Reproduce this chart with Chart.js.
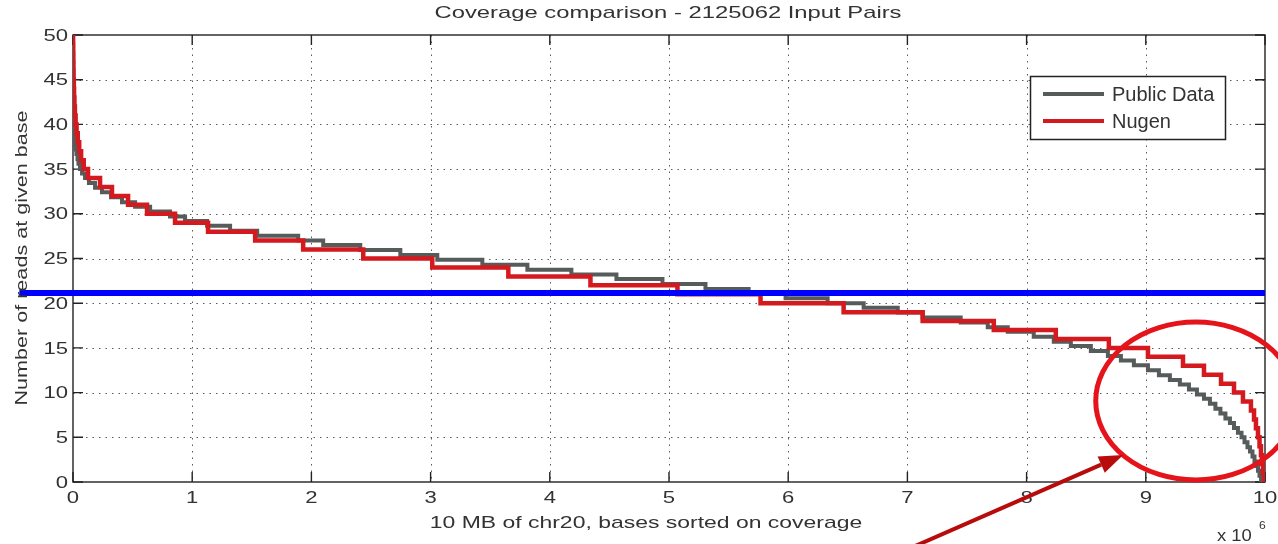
<!DOCTYPE html>
<html>
<head>
<meta charset="utf-8">
<script src="https://cdn.jsdelivr.net/npm/chart.js@4.4.1/dist/chart.umd.min.js"></script>
<style>
  html, body { margin: 0; padding: 0; background: #fff; }
  canvas { display: block; }
</style>
</head>
<body>
<canvas id="c" width="1278" height="544"></canvas>
<script>
// ---- Data (x in units of 10^6 bases; y = number of reads) ----
const chartTitle = 'Coverage comparison - 2125062 Input Pairs';
const xAxisTitle = '10 MB of chr20, bases sorted on coverage';
const yAxisTitle = 'Number of reads at given base';
const seriesNames = ['Public Data', 'Nugen'];
const xTicks = [0, 1, 2, 3, 4, 5, 6, 7, 8, 9, 10];
const yTicks = [0, 5, 10, 15, 20, 25, 30, 35, 40, 45, 50];
const thresholdY = 21.15;
const thresholdX = [-0.45, 10];

// Nugen: start position of each coverage level and the level
const nugenX = [0, 0.001, 0.002, 0.003, 0.004, 0.005, 0.007, 0.009, 0.012, 0.016,
  0.022, 0.030, 0.040, 0.052, 0.068, 0.090, 0.126, 0.227, 0.327, 0.462,
  0.621, 0.856, 1.133, 1.528, 1.931, 2.435, 3.014, 3.652, 4.341, 5.071,
  5.768, 6.465, 7.128, 7.725, 8.245, 8.690, 9.018, 9.312, 9.488, 9.631,
  9.740, 9.815, 9.882, 9.908, 9.924, 9.941, 9.954, 9.966, 9.975, 9.983, 9.992];
const nugenY = [50, 49, 48, 47, 46, 45, 44, 43, 42, 41,
  40, 39, 38, 37, 36, 35, 34, 33, 32, 31,
  30, 29, 28, 27, 26, 25, 24, 23, 22, 21,
  20, 19, 18, 17, 16, 15, 14, 13, 12, 11,
  10, 9, 8, 7, 6, 5, 4, 3, 2, 1, 0];

// Public Data: start position of each level and the level
const publicX = [0, 0.011, 0.014, 0.018, 0.024, 0.029, 0.038, 0.046, 0.059, 0.076,
  0.101, 0.134, 0.185, 0.243, 0.319, 0.411, 0.521, 0.647, 0.814, 0.940,
  1.125, 1.318, 1.545, 1.889, 2.099, 2.410, 2.746, 3.056, 3.434, 3.812,
  4.181, 4.559, 4.945, 5.306, 5.668, 5.978, 6.331, 6.633, 6.919, 7.128,
  7.447, 7.674, 7.842, 8.060, 8.228, 8.371, 8.539, 8.682, 8.791, 8.900,
  9.018, 9.110, 9.202, 9.286, 9.362, 9.429, 9.488, 9.538, 9.584, 9.626,
  9.668, 9.706, 9.740, 9.773, 9.803, 9.828, 9.853, 9.874, 9.895, 9.912,
  9.929, 9.941, 9.954, 9.967, 9.978];
const publicY = [40.0, 38.8, 38.3, 37.7, 37.2, 36.7, 36.1, 35.6, 35.0, 34.5,
  34.0, 33.45, 32.9, 32.4, 31.85, 31.3, 30.8, 30.25, 29.7, 29.2,
  28.65, 28.1, 27.55, 27.0, 26.5, 25.95, 25.4, 24.85, 24.3, 23.75,
  23.2, 22.7, 22.15, 21.6, 21.1, 20.55, 20.0, 19.5, 18.95, 18.4,
  17.85, 17.3, 16.8, 16.25, 15.7, 15.2, 14.65, 14.1, 13.6, 13.05,
  12.5, 11.95, 11.4, 10.9, 10.35, 9.8, 9.3, 8.75, 8.2, 7.65,
  7.1, 6.6, 6.05, 5.5, 5.0, 4.45, 3.9, 3.4, 2.85, 2.3,
  1.8, 1.25, 0.7, 0.2, 0];

// Annotation (highlight ellipse + arrow), in data units
const ellipseCenter = [9.42, 9.06];
const ellipseRadius = [0.84, 8.84];
const arrowFrom = [6.99, -7.6];
const arrowTo = [8.81, 3.02];

// ---- Styles ----
const FONT = '"Liberation Sans", Arial, Helvetica, sans-serif';
const TEXT = '#333';
const GRAY = '#565b5b';
const RED = '#d41a1f';
const BLUE = '#0000ff';

const toPts = (xs, ys) => xs.map((x, i) => ({ x: x, y: ys[i] }));

function txt(ctx, s, x, y, size, sx, align, baseline, rot) {
  ctx.save();
  ctx.translate(x, y);
  if (rot) ctx.rotate(rot);
  ctx.scale(sx, 1);
  ctx.font = size + 'px ' + FONT;
  ctx.fillStyle = TEXT;
  ctx.textAlign = align;
  ctx.textBaseline = baseline;
  ctx.fillText(s, 0, 0);
  ctx.restore();
}

const matlabAxes = {
  id: 'matlabAxes',
  beforeDatasetsDraw(chart) {
    const { ctx, chartArea: a, scales: { x, y } } = chart;
    ctx.save();
    // dotted grid
    ctx.strokeStyle = '#5a5a5a';
    ctx.lineWidth = 1;
    ctx.setLineDash([1.5, 5]);
    xTicks.forEach(v => {
      if (v === xTicks[0] || v === xTicks[xTicks.length - 1]) return;
      const px = Math.round(x.getPixelForValue(v)) + 0.5;
      ctx.beginPath(); ctx.moveTo(px, a.top); ctx.lineTo(px, a.bottom); ctx.stroke();
    });
    yTicks.forEach(v => {
      if (v === yTicks[0] || v === yTicks[yTicks.length - 1]) return;
      const py = Math.round(y.getPixelForValue(v)) + 0.5;
      ctx.beginPath(); ctx.moveTo(a.left, py); ctx.lineTo(a.right, py); ctx.stroke();
    });
    ctx.setLineDash([]);
    // frame
    ctx.strokeStyle = '#222';
    ctx.lineWidth = 1.4;
    ctx.strokeRect(a.left, a.top, a.right - a.left, a.bottom - a.top);
    // inward tick marks
    const tl = 10;
    ctx.beginPath();
    xTicks.forEach(v => {
      const px = x.getPixelForValue(v);
      ctx.moveTo(px, a.bottom); ctx.lineTo(px, a.bottom - tl);
      ctx.moveTo(px, a.top); ctx.lineTo(px, a.top + tl);
    });
    yTicks.forEach(v => {
      const py = y.getPixelForValue(v);
      ctx.moveTo(a.left, py); ctx.lineTo(a.left + tl, py);
      ctx.moveTo(a.right, py); ctx.lineTo(a.right - tl, py);
    });
    ctx.stroke();
    ctx.restore();
  },
  afterDraw(chart) {
    const { ctx, chartArea: a, scales: { x, y } } = chart;
    // tick labels
    yTicks.forEach(v => txt(ctx, String(v), a.left - 5, y.getPixelForValue(v) + 1, 17, 1.3, 'right', 'middle'));
    xTicks.forEach(v => txt(ctx, String(v), x.getPixelForValue(v), a.bottom + 16, 17, 1.3, 'center', 'middle'));
    // titles
    txt(ctx, chartTitle, 668, 13, 17, 1.4, 'center', 'middle');
    txt(ctx, xAxisTitle, 646, 523, 17, 1.35, 'center', 'middle');
    txt(ctx, yAxisTitle, 22, 258, 17, 1.27, 'center', 'middle', -Math.PI / 2);
    // exponent
    txt(ctx, 'x 10', 1217, 537, 16, 1.15, 'left', 'middle');
    txt(ctx, '6', 1259, 526, 11, 1.1, 'left', 'middle');

    // legend
    ctx.save();
    ctx.fillStyle = '#fff';
    ctx.fillRect(1030, 76, 195, 63);
    ctx.strokeStyle = '#222';
    ctx.lineWidth = 1.5;
    ctx.strokeRect(1030.5, 76.5, 195, 63);
    const legendColors = [GRAY, RED];
    const legendY = [94, 121];
    seriesNames.forEach((name, i) => {
      ctx.strokeStyle = legendColors[i];
      ctx.lineWidth = 4;
      ctx.beginPath(); ctx.moveTo(1043, legendY[i]); ctx.lineTo(1104, legendY[i]); ctx.stroke();
      txt(ctx, name, 1112, legendY[i] + 1, 20, 1.0, 'left', 'middle');
    });
    ctx.restore();

    // highlight ellipse
    ctx.save();
    const cx = x.getPixelForValue(ellipseCenter[0]);
    const cy = y.getPixelForValue(ellipseCenter[1]);
    const rx = Math.abs(x.getPixelForValue(ellipseCenter[0] + ellipseRadius[0]) - cx);
    const ry = Math.abs(y.getPixelForValue(ellipseCenter[1] + ellipseRadius[1]) - cy);
    ctx.strokeStyle = '#e5141a';
    ctx.lineWidth = 5;
    ctx.beginPath();
    ctx.ellipse(cx, cy, rx, ry, 0, 0, Math.PI * 2);
    ctx.stroke();
    // arrow
    const x0 = x.getPixelForValue(arrowFrom[0]), y0 = y.getPixelForValue(arrowFrom[1]);
    const x1 = x.getPixelForValue(arrowTo[0]), y1 = y.getPixelForValue(arrowTo[1]);
    const ang = Math.atan2(y1 - y0, x1 - x0);
    const hl = 24, hw = 9;
    const bx = x1 - hl * Math.cos(ang), by = y1 - hl * Math.sin(ang);
    ctx.strokeStyle = '#b80c0c';
    ctx.fillStyle = '#b80c0c';
    ctx.lineWidth = 4;
    ctx.beginPath(); ctx.moveTo(x0, y0); ctx.lineTo(bx, by); ctx.stroke();
    ctx.beginPath();
    ctx.moveTo(x1, y1);
    ctx.lineTo(bx + hw * Math.sin(ang), by - hw * Math.cos(ang));
    ctx.lineTo(bx - hw * Math.sin(ang), by + hw * Math.cos(ang));
    ctx.closePath();
    ctx.fill();
    ctx.restore();
  }
};

new Chart(document.getElementById('c'), {
  type: 'line',
  data: {
    datasets: [
      {
        label: 'threshold',
        data: toPts(thresholdX, [thresholdY, thresholdY]),
        borderColor: BLUE, borderWidth: 6, pointRadius: 0, clip: false,
        borderCapStyle: 'butt', order: 0
      },
      {
        label: seriesNames[1],
        data: toPts(nugenX, nugenY),
        borderColor: RED, borderWidth: 4.5, pointRadius: 0, stepped: 'before',
        borderJoinStyle: 'miter', borderCapStyle: 'butt', order: 1
      },
      {
        label: seriesNames[0],
        data: toPts(publicX, publicY),
        borderColor: GRAY, borderWidth: 4, pointRadius: 0, stepped: 'before',
        borderJoinStyle: 'miter', borderCapStyle: 'butt', order: 2
      }
    ]
  },
  options: {
    responsive: false,
    animation: false,
    events: [],
    layout: { padding: { left: 0, right: 13, top: 35, bottom: 0 } },
    plugins: { legend: { display: false }, title: { display: false }, tooltip: { enabled: false } },
    scales: {
      x: {
        type: 'linear', min: 0, max: 10,
        ticks: { display: false, stepSize: 1 },
        grid: { display: false }, border: { display: false },
        afterFit(s) { s.height = 62; }
      },
      y: {
        type: 'linear', min: 0, max: 50,
        ticks: { display: false, stepSize: 5 },
        grid: { display: false }, border: { display: false },
        afterFit(s) { s.width = 73; }
      }
    }
  },
  plugins: [matlabAxes]
});
</script>
</body>
</html>
